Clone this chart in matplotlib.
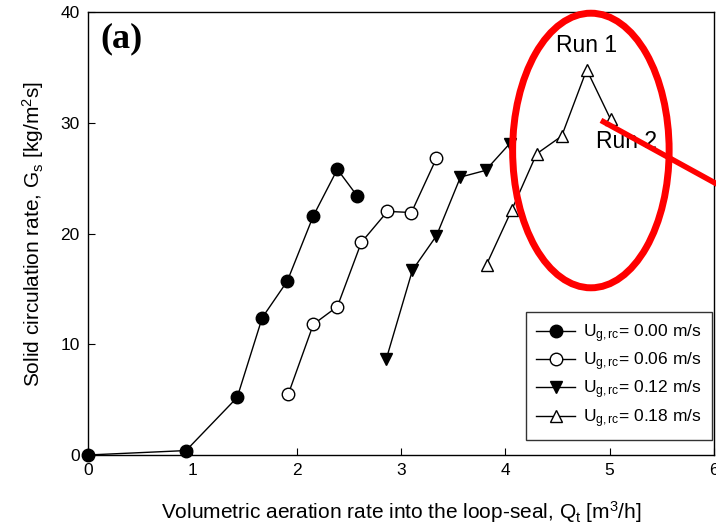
import matplotlib
matplotlib.use("Agg")
import matplotlib.pyplot as plt
from matplotlib.patches import Ellipse

plt.rcParams['font.family'] = ['Liberation Sans', 'DejaVu Sans']
plt.rcParams['mathtext.fontset'] = 'custom'
plt.rcParams['mathtext.rm'] = 'Liberation Sans'
plt.rcParams['mathtext.it'] = 'Liberation Sans'
plt.rcParams['mathtext.bf'] = 'Liberation Sans:bold'

# data
q_000 = [0.0, 0.94, 1.43, 1.67, 1.91, 2.16, 2.39, 2.58]
gs_000 = [0.0, 0.4, 5.2, 12.4, 15.7, 21.6, 25.8, 23.4]

q_006 = [1.92, 2.16, 2.39, 2.62, 2.87, 3.10, 3.34]
gs_006 = [5.5, 11.8, 13.4, 19.2, 22.0, 21.9, 26.8]

q_012 = [2.86, 3.11, 3.34, 3.57, 3.81, 4.04]
gs_012 = [8.7, 16.7, 19.8, 25.1, 25.7, 28.1]

q_018 = [3.82, 4.06, 4.30, 4.54, 4.78, 5.01]
gs_018 = [17.2, 22.1, 27.2, 28.8, 34.8, 30.3]

labels = ['U$_{g,rc}$= 0.00 m/s', 'U$_{g,rc}$= 0.06 m/s',
          'U$_{g,rc}$= 0.12 m/s', 'U$_{g,rc}$= 0.18 m/s']

fig = plt.figure(figsize=(7.16, 5.26), dpi=100)
ax = fig.add_axes([0.1229, 0.135, 0.8743, 0.842])

ms = 9
ax.plot(q_000, gs_000, '-o', color='black', mfc='black', ms=ms, lw=1, label=labels[0], clip_on=False, zorder=3)
ax.plot(q_006, gs_006, '-o', color='black', mfc='white', ms=ms, lw=1, label=labels[1], clip_on=False, zorder=3)
ax.plot(q_012, gs_012, '-v', color='black', mfc='black', ms=ms, lw=1, label=labels[2], clip_on=False, zorder=3)
ax.plot(q_018, gs_018, '-^', color='black', mfc='white', ms=ms, lw=1, label=labels[3], clip_on=False, zorder=3)

ax.set_xlim(0, 6)
ax.set_ylim(0, 40)
ax.set_xticks(range(0, 7))
ax.set_yticks(range(0, 41, 10))
ax.tick_params(direction='in', length=5, labelsize=12.5, pad=6)
for s in ax.spines.values():
    s.set_linewidth(1)

ax.set_xlabel('Volumetric aeration rate into the loop-seal, Q$_t$ [m$^3$/h]', fontsize=15, labelpad=15)
ax.set_ylabel('Solid circulation rate, G$_s$ [kg/m$^2$s]', fontsize=15, labelpad=10)

ax.text(0.12, 37.6, '(a)', fontsize=26, fontweight='bold', family='Liberation Serif', va='center')

leg = ax.legend(loc='lower right', bbox_to_anchor=(1.0, 0.03), fontsize=12.5, frameon=True,
                fancybox=False, edgecolor='black', handlelength=2.2, borderpad=0.6,
                labelspacing=0.33, handletextpad=0.5, borderaxespad=0.1)
leg.get_frame().set_linewidth(1)

# red annotation
ax.add_patch(Ellipse((4.82, 27.5), 1.50, 24.8, fill=False, edgecolor='red', lw=5, zorder=4, clip_on=False))
ax.plot([4.94, 6.1], [30.1, 24.1], color='red', lw=4, clip_on=False, zorder=4)
ax.text(4.78, 37.0, 'Run 1', fontsize=16.5, ha='center', va='center', zorder=5)
ax.text(5.16, 28.3, 'Run 2', fontsize=16.5, ha='center', va='center', zorder=3)

fig.savefig('out.png', dpi=100)
